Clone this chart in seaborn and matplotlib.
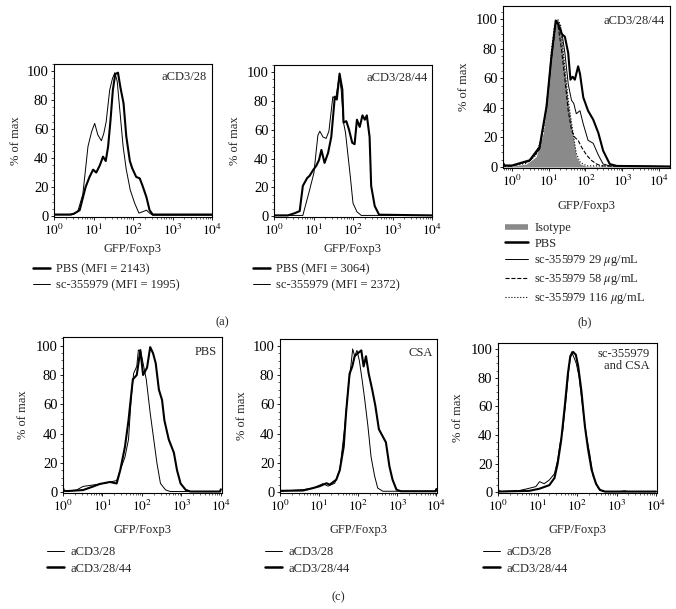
import numpy as np
import pandas as pd
import matplotlib
matplotlib.use("Agg")
import matplotlib.pyplot as plt
import seaborn as sns
from matplotlib.lines import Line2D
from matplotlib.ticker import LogLocator, MultipleLocator, NullFormatter

sns.set_style("ticks")
plt.rcParams['font.family'] = ['Liberation Serif', 'DejaVu Serif']
plt.rcParams['mathtext.fontset'] = 'stix'

# ---------------- data (log10 GFP intensity, % of max) ----------------
a1_pbs_log = [0.0, 0.4, 0.5, 0.65, 0.8, 0.9, 0.99, 1.07, 1.16, 1.24, 1.31, 1.37, 1.43, 1.49, 1.55, 1.62, 1.68, 1.76, 1.83, 1.92, 1.98, 2.08, 2.17, 2.24, 2.34, 2.42, 2.5, 4.0]
a1_pbs_pct = [1, 1, 1.5, 4, 20, 27, 32, 30, 35, 41, 38, 48, 66, 87, 98, 99, 89, 78, 55, 38, 33, 27, 26, 21, 13, 4, 1, 1]
a1_sc_log = [0.0, 0.45, 0.6, 0.73, 0.86, 0.95, 1.03, 1.11, 1.2, 1.26, 1.32, 1.41, 1.48, 1.54, 1.6, 1.66, 1.75, 1.83, 1.93, 2.04, 2.15, 2.25, 2.34, 2.42, 2.5, 4.0]
a1_sc_pct = [0.8, 0.8, 3, 15, 48, 58, 64, 56, 52, 57, 65, 87, 95, 99, 93, 75, 48, 32, 18, 9, 2, 3, 4, 2, 0.5, 0.5]

a2_pbs_log = [0.0, 0.35, 0.52, 0.65, 0.73, 0.84, 0.9, 0.99, 1.07, 1.14, 1.2, 1.28, 1.37, 1.45, 1.54, 1.59, 1.66, 1.73, 1.76, 1.83, 1.9, 1.98, 2.04, 2.1, 2.17, 2.24, 2.3, 2.35, 2.42, 2.46, 2.55, 2.66, 4.0]
a2_pbs_pct = [0.5, 0.5, 2, 3.5, 21, 26.5, 28, 32, 35, 39, 46, 37, 44, 55, 83, 81, 99, 88, 65, 66, 60, 51, 50, 67, 62, 70, 67, 70, 55, 21, 7, 1, 0.5]
a2_sc_log = [0.0, 0.73, 0.9, 1.01, 1.11, 1.16, 1.24, 1.32, 1.39, 1.49, 1.56, 1.65, 1.7, 1.76, 1.81, 1.93, 2.0, 2.1, 2.21, 4.0]
a2_sc_pct = [0.5, 0.5, 18, 30, 56, 59, 55, 54, 59, 83, 81, 97, 88, 65, 58, 28, 9, 3, 0.5, 0.5]

b_iso_log = [-0.25, -0.2, 0.0, 0.39, 0.66, 0.85, 0.98, 1.07, 1.16, 1.24, 1.32, 1.41, 1.53, 1.65, 1.75, 1.86, 2.03, 4.3]
b_iso_pct = [2, 0.5, 0.5, 2, 7, 23, 50, 77, 95, 100, 95, 72, 43, 23, 7, 2, 0.5, 0.3]
b_pbs_log = [-0.25, -0.2, 0.0, 0.48, 0.75, 0.94, 1.07, 1.19, 1.25, 1.35, 1.44, 1.53, 1.59, 1.65, 1.71, 1.8, 1.85, 1.94, 2.07, 2.21, 2.35, 2.48, 2.66, 2.85, 4.3]
b_pbs_pct = [3, 1, 1, 4.5, 13.5, 41, 74, 99, 97, 90, 88, 77, 59, 61, 59, 68, 63, 47, 38, 32, 23, 11, 2, 0.7, 0.3]
b_29_log = [-0.25, -0.2, 0.0, 0.48, 0.75, 0.94, 1.07, 1.19, 1.25, 1.35, 1.44, 1.53, 1.62, 1.68, 1.75, 1.85, 1.94, 2.07, 2.21, 2.35, 2.48, 2.66, 4.3]
b_29_pct = [2, 0.7, 0.7, 4, 12, 40, 73, 98, 97, 92, 77, 56, 45, 43, 36, 38, 29, 18, 16, 8, 2, 0.7, 0.3]
b_58_log = [-0.25, -0.2, 0.0, 0.48, 0.75, 0.94, 1.07, 1.19, 1.25, 1.35, 1.44, 1.53, 1.62, 1.71, 1.8, 1.89, 2.03, 2.16, 2.3, 2.44, 4.3]
b_58_pct = [2, 0.7, 0.7, 4, 12, 40, 73, 98, 96, 79, 59, 38, 25, 20, 18, 13.5, 8, 4.5, 2, 0.7, 0.3]
b_116_log = [-0.25, -0.2, 0.0, 0.39, 0.66, 0.85, 0.98, 1.07, 1.16, 1.24, 1.32, 1.41, 1.53, 1.65, 1.75, 1.86, 2.03, 4.3]
b_116_pct = [2, 0.5, 0.5, 2.5, 8, 24, 51, 78, 96, 100, 96, 74, 45, 25, 9, 3, 0.8, 0.3]

c1_thin_log = [0.0, 0.02, 0.1, 0.34, 0.51, 0.77, 1.02, 1.19, 1.36, 1.45, 1.57, 1.66, 1.73, 1.79, 1.87, 1.91, 1.97, 2.03, 2.11, 2.21, 2.3, 2.38, 2.47, 2.6, 2.72, 3.98, 4.0]
c1_thin_pct = [6, 1, 0.8, 1.5, 4, 5, 6, 7, 8, 15, 24, 36, 65, 81, 86, 97, 96, 88, 77, 54, 36, 20, 6, 1.6, 0.5, 0.5, 2]
c1_thick_log = [0.0, 0.02, 0.1, 0.51, 0.77, 0.94, 1.19, 1.36, 1.45, 1.57, 1.66, 1.77, 1.87, 1.96, 2.03, 2.13, 2.21, 2.28, 2.35, 2.43, 2.51, 2.57, 2.68, 2.81, 2.89, 2.98, 3.11, 3.23, 3.98, 4.0]
c1_thick_pct = [3, 1, 0.8, 1.5, 4, 5.7, 7, 6, 15, 31, 49, 77, 80, 97, 80, 85, 99, 95, 88, 70, 63, 49, 36, 27, 15, 6, 1.6, 0.5, 0.5, 2]

c2_thin_log = [0.0, 0.59, 0.85, 1.1, 1.23, 1.4, 1.53, 1.65, 1.74, 1.82, 1.86, 1.91, 1.97, 2.03, 2.1, 2.16, 2.25, 2.33, 2.42, 2.5, 2.63, 4.0]
c2_thin_pct = [0.5, 1.6, 2.7, 5.7, 4, 6, 15, 43, 70, 88, 98, 93, 97, 90, 77, 65, 45, 24, 11, 2.7, 0.5, 0.5]
c2_thick_log = [0.0, 0.59, 0.85, 1.02, 1.19, 1.27, 1.44, 1.53, 1.63, 1.69, 1.78, 1.85, 1.91, 1.99, 2.08, 2.14, 2.2, 2.27, 2.36, 2.44, 2.53, 2.63, 2.71, 2.8, 2.88, 2.98, 3.09, 3.98, 4.0]
c2_thick_pct = [0.8, 1, 2.7, 4, 6, 5, 8.4, 15, 31, 54, 81, 86, 93, 95, 97, 86, 93, 81, 70, 59, 43, 38, 34, 17.5, 8.4, 1.6, 0.5, 0.5, 2]

c3_thin_log = [0.0, 0.02, 0.1, 0.54, 0.79, 0.96, 1.05, 1.17, 1.3, 1.43, 1.51, 1.57, 1.64, 1.73, 1.8, 1.86, 1.91, 1.98, 2.05, 2.11, 2.17, 2.24, 2.32, 2.41, 2.54, 2.66, 3.1, 3.2, 3.3, 4.0]
c3_thin_pct = [6, 1, 0.5, 1.2, 2.8, 4, 7.4, 6, 8.6, 13, 22.6, 34, 43, 67, 88, 98, 95, 90, 81, 67, 53, 39, 27, 11, 2.8, 0.5, 0.5, 1, 0.5, 0.5]
c3_thick_log = [0.0, 0.79, 1.05, 1.3, 1.43, 1.51, 1.6, 1.69, 1.77, 1.83, 1.9, 1.97, 2.03, 2.11, 2.2, 2.28, 2.37, 2.48, 2.58, 2.71, 4.0]
c3_thick_pct = [0.5, 1, 2.5, 5, 10, 20, 36.5, 60, 83, 95, 98, 96, 88, 71, 46, 30, 15.6, 6, 1.6, 0.5, 0.5]

decade_labels = [r'$10^{0}$', r'$10^{1}$', r'$10^{2}$', r'$10^{3}$', r'$10^{4}$']
pct_ticks = [0, 20, 40, 60, 80, 100]

# ---------------- figure ----------------
W, H = 676, 609
fig = plt.figure(figsize=(W / 100, H / 100), dpi=100)
FS = 9
THICK, THIN = 1.5, 0.7


def add_ax(l, r, t, b):
    return fig.add_axes([l / W, 1 - b / H, (r - l) / W, (b - t) / H])


def curve(ax, logs, pct, lw, ls='-'):
    df = pd.DataFrame({'gfp': np.power(10.0, logs), 'pct': pct})
    sns.lineplot(data=df, x='gfp', y='pct', ax=ax, color='black', lw=lw,
                 linestyle=ls, estimator=None, sort=False)


def style(ax, box, xlim, ylim, ylab_px, xlab_y, corner, corner_xy):
    l, r, t, b = box
    ax.set_xscale('log')
    ax.set_xlim(*xlim)
    ax.set_ylim(*ylim)
    ax.set_xticks([1, 10, 100, 1000, 10000])
    ax.set_xticklabels(decade_labels)
    ax.xaxis.set_minor_locator(LogLocator(base=10, subs=np.arange(2, 10), numticks=20))
    ax.xaxis.set_minor_formatter(NullFormatter())
    ax.set_yticks(pct_ticks)
    ax.set_yticklabels([str(v) for v in pct_ticks])
    ax.yaxis.set_minor_locator(MultipleLocator(5))
    for s in ax.spines.values():
        s.set_visible(True)
        s.set_linewidth(0.8)
        s.set_color('black')
    ax.tick_params(which='major', direction='out', length=2.5, width=0.6,
                   pad=1.5, colors='black')
    ax.tick_params(axis='x', which='major', labelsize=9.5, pad=2)
    ax.tick_params(axis='y', which='major', labelsize=10.5)
    ax.tick_params(which='minor', direction='out', length=1.3, width=0.5)
    ax.set_ylabel('% of max', fontsize=FS, va='center')
    ax.yaxis.set_label_coords((ylab_px - l) / (r - l), 0.5)
    ax.set_xlabel('GFP/Foxp3', fontsize=FS, va='center')
    ax.xaxis.set_label_coords(0.5, (b - xlab_y) / (b - t))
    ax.text(corner_xy[0], corner_xy[1], corner, transform=ax.transAxes,
            ha='right', va='top', fontsize=FS, multialignment='right',
            linespacing=1.05)
    if ax.get_legend() is not None:
        ax.get_legend().remove()


def legend(handles, labels, x, y, hl=1.36, spacing=0.38):
    fig.legend(handles, labels, loc='upper left',
               bbox_to_anchor=(x / W, 1 - y / H), frameon=False,
               borderpad=0, borderaxespad=0, handlelength=hl,
               handletextpad=0.5, labelspacing=spacing, fontsize=FS)


thick_h = Line2D([], [], color='black', lw=THICK + 0.3)
thin_h = Line2D([], [], color='black', lw=THIN)

# (a) left
box = (54, 212, 64, 217)
ax = add_ax(*box)
curve(ax, a1_sc_log, a1_sc_pct, THIN)
curve(ax, a1_pbs_log, a1_pbs_pct, THICK)
style(ax, box, (1, 1e4), (-0.7, 105), 16, 249, 'aCD3/28', (0.968, 0.955))
legend([thick_h, thin_h], ['PBS (MFI = 2143)', 'sc-355979 (MFI = 1995)'], 33, 263)

# (a) right
box = (274, 432, 65, 217)
ax = add_ax(*box)
curve(ax, a2_sc_log, a2_sc_pct, THIN)
curve(ax, a2_pbs_log, a2_pbs_pct, THICK)
style(ax, box, (1, 1e4), (-0.6, 105), 235, 249, 'aCD3/28/44', (0.975, 0.955))
legend([thick_h, thin_h], ['PBS (MFI = 3064)', 'sc-355979 (MFI = 2372)'], 253, 263)

fig.text(222 / W, 1 - 322 / H, '(a)', ha='center', va='center', fontsize=FS)

# (b)
box = (503, 670, 6, 168)
ax = add_ax(*box)
iso_x = np.power(10.0, b_iso_log)
ax.fill_between(iso_x, 0, b_iso_pct, color='#8a8a8a', lw=0, zorder=1)
curve(ax, b_116_log, b_116_pct, 0.8, ':')
curve(ax, b_58_log, b_58_pct, 0.8, '--')
curve(ax, b_29_log, b_29_pct, THIN)
curve(ax, b_pbs_log, b_pbs_pct, THICK)
style(ax, box, (10 ** -0.245, 10 ** 4.3), (-0.7, 108.8), 464, 206,
      'aCD3/28/44', (0.97, 0.945))
legend([Line2D([], [], color='#8a8a8a', lw=4, solid_capstyle='butt'),
        thick_h, thin_h,
        Line2D([], [], color='black', lw=0.8, ls='--'),
        Line2D([], [], color='black', lw=0.8, ls=':')],
       ['Isotype', 'PBS', r'sc-355979 29 $\mu$g/mL', r'sc-355979 58 $\mu$g/mL',
        r'sc-355979 116 $\mu$g/mL'], 505, 222, hl=1.85, spacing=0.3)
fig.text(585 / W, 1 - 322 / H, '(b)', ha='center', va='center', fontsize=FS)

# (c)
c_boxes = [(63, 221.5, 337, 493), (280, 437, 339, 493), (498, 656.7, 343, 493)]
c_ylims = [(-0.5, 105.9), (-0.7, 104.8), (-0.5, 104.2)]
c_ylab = [23, 242, 458]
c_corner = ['PBS', 'CSA', 'sc-355979\nand CSA']
c_corner_xy = [(0.97, 0.94), (0.975, 0.948), (0.956, 0.967)]
c_data = [(c1_thin_log, c1_thin_pct, c1_thick_log, c1_thick_pct),
          (c2_thin_log, c2_thin_pct, c2_thick_log, c2_thick_pct),
          (c3_thin_log, c3_thin_pct, c3_thick_log, c3_thick_pct)]
c_leg_x = [47, 265, 483]
for i in range(3):
    box = c_boxes[i]
    ax = add_ax(*box)
    tl, tp, kl, kp = c_data[i]
    curve(ax, tl, tp, THIN)
    curve(ax, kl, kp, THICK)
    style(ax, box, (1, 1.04e4), c_ylims[i], c_ylab[i], 530, c_corner[i], c_corner_xy[i])
    legend([thin_h, thick_h], ['aCD3/28', 'aCD3/28/44'], c_leg_x[i], 546)

fig.text(338 / W, 1 - 597 / H, '(c)', ha='center', va='center', fontsize=FS)

fig.savefig('out.png', dpi=100, facecolor='white')
